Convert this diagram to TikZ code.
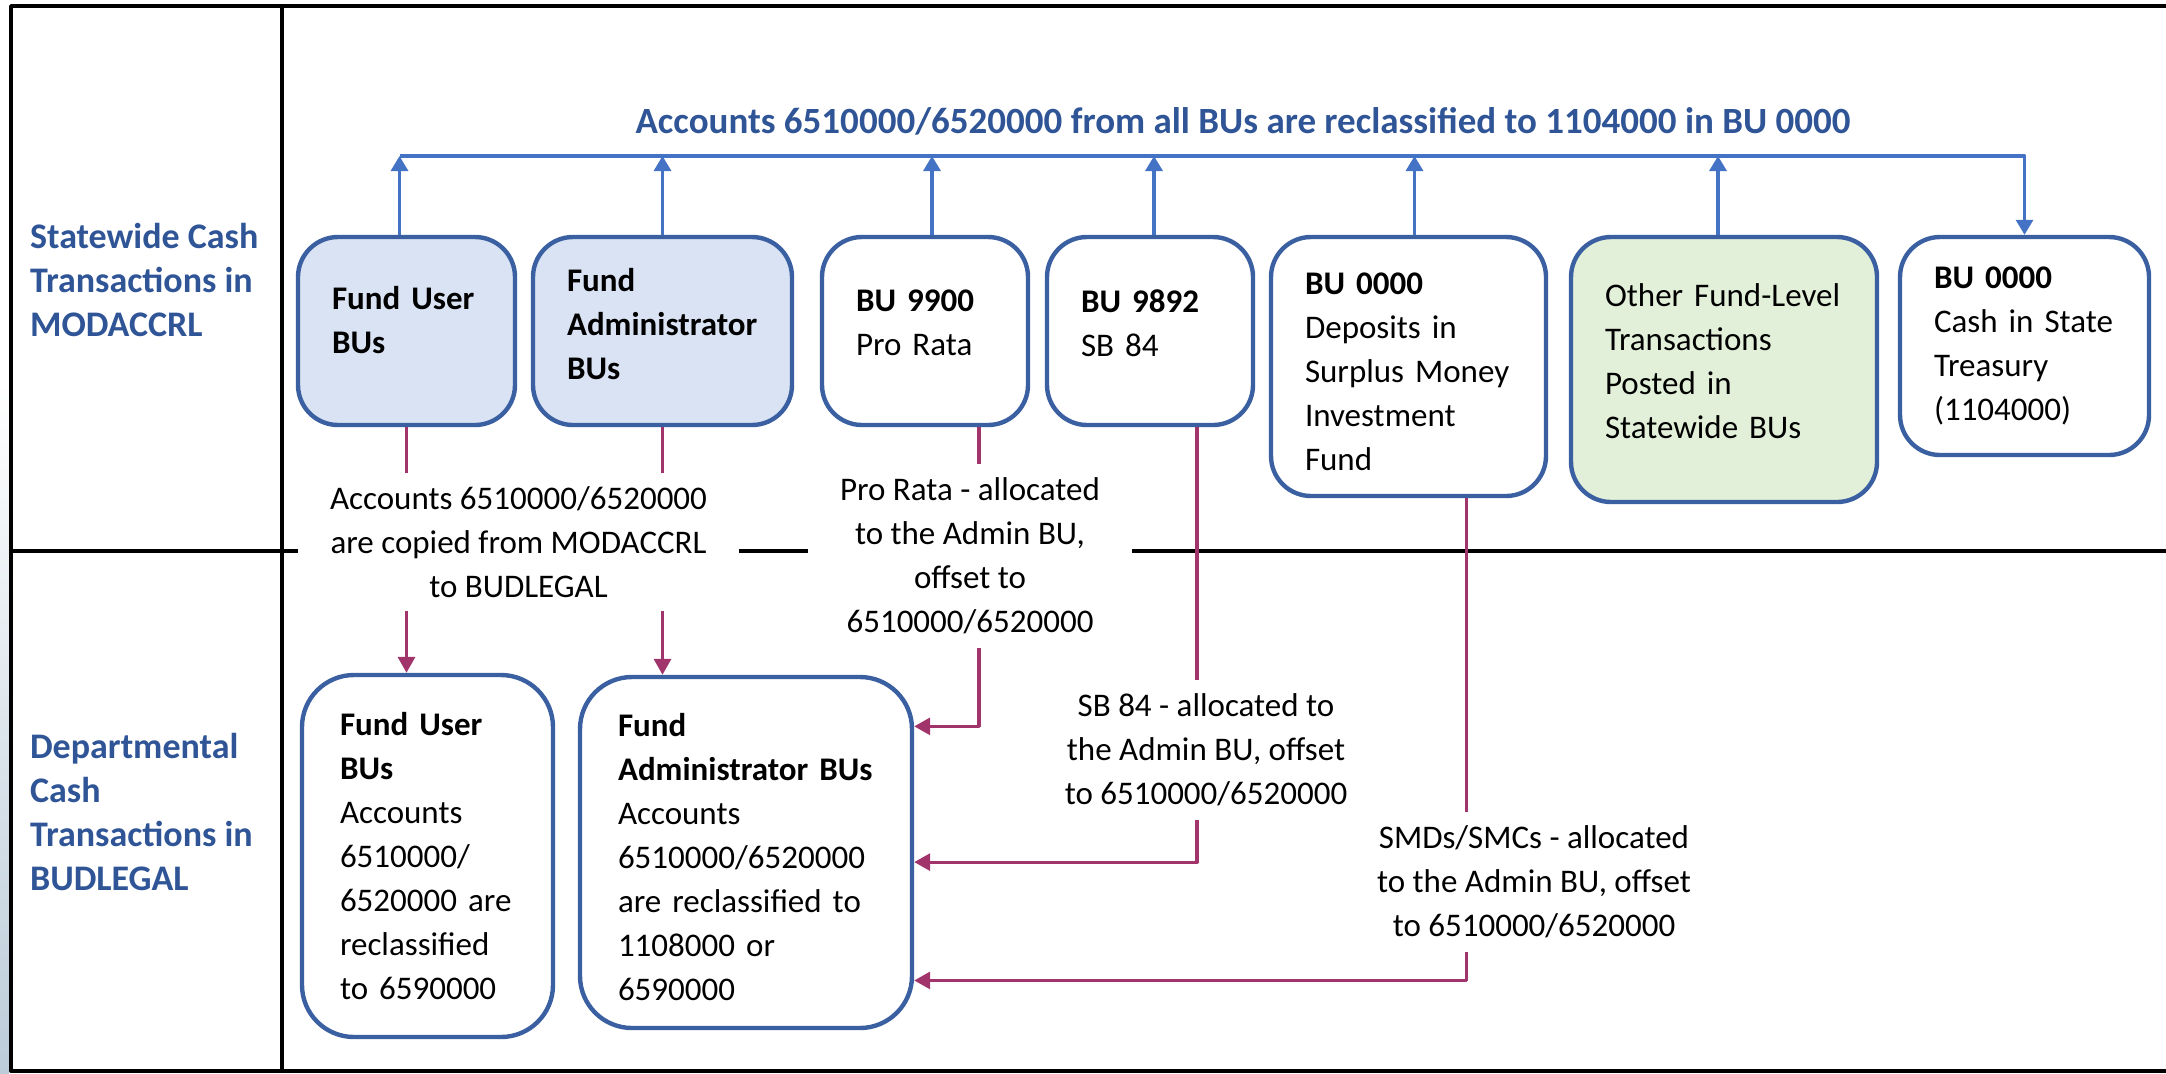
\documentclass[tikz,border=0pt]{standalone}
\usepackage{fontspec}
\setmainfont{Carlito}
\usetikzlibrary{arrows.meta,calc}

\definecolor{lanetext}{HTML}{2F5597}
\definecolor{busblue}{HTML}{4472C4}
\definecolor{boxline}{HTML}{3B60A2}
\definecolor{userfill}{HTML}{DAE3F3}
\definecolor{otherfill}{HTML}{E2F0D9}
\definecolor{allocred}{HTML}{A0346B}
\definecolor{edgeshade}{HTML}{BCCCD9}

\begin{document}
\begin{tikzpicture}[
  x=0.5pt,
  y=-0.5pt,
  line join=round,
  every node/.style={font=\fontsize{16.5}{22}\selectfont},
  frameline/.style={draw=black,line width=1.9pt},
  unitbox/.style={draw=boxline,line width=2.2pt,rounded corners=20pt,align=left,inner xsep=17pt,inner ysep=0pt},
  deptbox/.style={unitbox,rounded corners=26pt,inner xsep=19pt},
  lift/.style={execute at end node={\endgraf\vspace{#1}}},
  lanelabel/.style={anchor=west,align=left,text=lanetext,font=\fontsize{18}{22}\selectfont\bfseries},
  flownote/.style={fill=white,align=center,inner xsep=16pt,inner ysep=6.5pt},
  bus/.style={draw=busblue,line width=1.6pt},
  busarrow/.style={bus,-{Triangle[width=8.5pt,length=7.5pt]}},
  alloc/.style={draw=allocred,line width=1.6pt},
  allocarrow/.style={alloc,-{Triangle[width=8.5pt,length=8pt]}}
]
  % Screenshot frame, pixel units of the original.
  \useasboundingbox (0,0) rectangle (2166,1073);
  \shade[top color=white,bottom color=edgeshade] (0,380) rectangle (9,1073);

  % Table grid: outer frame, lane column and lane split.
  \draw[frameline] (2166,6) -- (11,6) -- (11,1071) -- (2166,1071);
  \draw[frameline] (282,6) -- (282,1071);
  \draw[frameline] (11,551) -- (2166,551);

  % Lane headings.
  \node[lanelabel] (statewide) at (23,280) {Statewide Cash\\Transactions in\\MODACCRL};
  \node[lanelabel] (departmental) at (23,812) {Departmental\\Cash\\Transactions in\\BUDLEGAL};

  % Statewide business units in MODACCRL.
  \node[unitbox,fill=userfill,text width=74.5pt,minimum height=94pt,lift=11pt] (fundUser) at (406.5,331)
    {\textbf{Fund User}\\\textbf{BUs}};
  \node[unitbox,fill=userfill,text width=95.5pt,minimum height=94pt,lift=7pt] (fundAdmin) at (662.5,331)
    {\textbf{Fund}\\\textbf{Administrator}\\\textbf{BUs}};
  \node[unitbox,fill=white,text width=69pt,minimum height=94pt,lift=8pt] (bu9900) at (925,331)
    {\textbf{BU 9900}\\Pro Rata};
  \node[unitbox,fill=white,text width=69pt,minimum height=94pt,lift=8pt] (bu9892) at (1150,331)
    {\textbf{BU 9892}\\SB 84};
  \node[unitbox,fill=white,text width=103.5pt,minimum height=129.5pt,lift=-5pt] (smif) at (1408.5,366.5)
    {\textbf{BU 0000}\\Deposits in\\Surplus~Money\\Investment\\Fund};
  \node[unitbox,fill=otherfill,text width=119pt,minimum height=132.5pt,lift=8pt] (otherFund) at (1724,369.5)
    {Other Fund-Level\\Transactions\\Posted in\\Statewide BUs};
  \node[unitbox,fill=white,text width=90.5pt,minimum height=109pt] (treasury) at (2024.5,346)
    {\textbf{BU 0000}\\Cash in State\\Treasury\\(1104000)};

  % Departmental business units in BUDLEGAL.
  \node[deptbox,fill=white,text width=87.5pt,minimum height=181pt] (deptUser) at (427.5,856)
    {\textbf{Fund User}\\\textbf{BUs}\\Accounts\\6510000/\\6520000 are\\reclassified\\to 6590000};
  \node[deptbox,fill=white,text width=128pt,minimum height=175.5pt,lift=-5pt] (deptAdmin) at (746,852.5)
    {\textbf{Fund}\\\textbf{Administrator~BUs}\\Accounts\\6510000/6520000\\are reclassified to\\1108000 or\\6590000};

  % Reclassification bus into BU 0000.
  \node[text=lanetext,font=\fontsize{18.5}{22}\selectfont\bfseries] (reclass) at (1243,121)
    {Accounts 6510000/6520000 from all BUs are reclassified to 1104000 in BU 0000};
  \coordinate (bus) at (0,156);
  \foreach \unit/\dx in {fundUser/-3.5pt,fundAdmin/0pt,bu9900/3.5pt,bu9892/2pt,smif/3pt,otherFund/-3pt} {
    \coordinate (up) at ([xshift=\dx]\unit.north);
    \draw[busarrow] (up) -- (up |- bus);
  }
  \coordinate (busStart) at ([xshift=-3.5pt]fundUser.north);
  \draw[busarrow] (busStart |- bus) -- (treasury.north |- bus) -- (treasury.north);

  % Allocation notes, white so they break the lane split.
  \node[flownote] (copiedNote) at (518.5,542)
    {Accounts 6510000/6520000\\are copied from MODACCRL\\to BUDLEGAL};
  \node[flownote] (proRataNote) at (970,556)
    {Pro Rata - allocated\\to the Admin BU,\\offset to\\6510000/6520000};
  \node[flownote] (sbNote) at (1206,750)
    {SB 84 - allocated to\\the Admin BU, offset\\to 6510000/6520000};
  \node[flownote] (smdNote) at (1534,882)
    {SMDs/SMCs - allocated\\to the Admin BU, offset\\to 6510000/6520000};

  % Copy from MODACCRL down to BUDLEGAL.
  \draw[alloc] (fundUser.south) -- (fundUser.south |- copiedNote.north);
  \draw[alloc] (fundAdmin.south) -- (fundAdmin.south |- copiedNote.north);
  \draw[allocarrow] (fundUser.south |- copiedNote.south) -- (fundUser.south |- deptUser.north);
  \draw[allocarrow] (fundAdmin.south |- copiedNote.south) -- (fundAdmin.south |- deptAdmin.north);

  % Allocations into the admin BU.
  \coordinate (proRataDrop) at ([xshift=27pt]bu9900.south);
  \coordinate (sbDrop) at ([xshift=23.5pt]bu9892.south);
  \coordinate (smdDrop) at ([xshift=29pt]smif.south);
  \draw[alloc] (proRataDrop) -- (proRataDrop |- proRataNote.north);
  \draw[allocarrow] (proRataDrop |- proRataNote.south)
    |- ($(deptAdmin.north east)!0.145!(deptAdmin.south east)$);
  \draw[alloc] (sbDrop) -- (sbDrop |- sbNote.north);
  \draw[allocarrow] (sbDrop |- sbNote.south)
    |- ($(deptAdmin.north east)!0.527!(deptAdmin.south east)$);
  \draw[alloc] (smdDrop) -- (smdDrop |- smdNote.north);
  \draw[allocarrow] (smdDrop |- smdNote.south)
    |- ($(deptAdmin.north east)!0.86!(deptAdmin.south east)$);
\end{tikzpicture}
\end{document}
